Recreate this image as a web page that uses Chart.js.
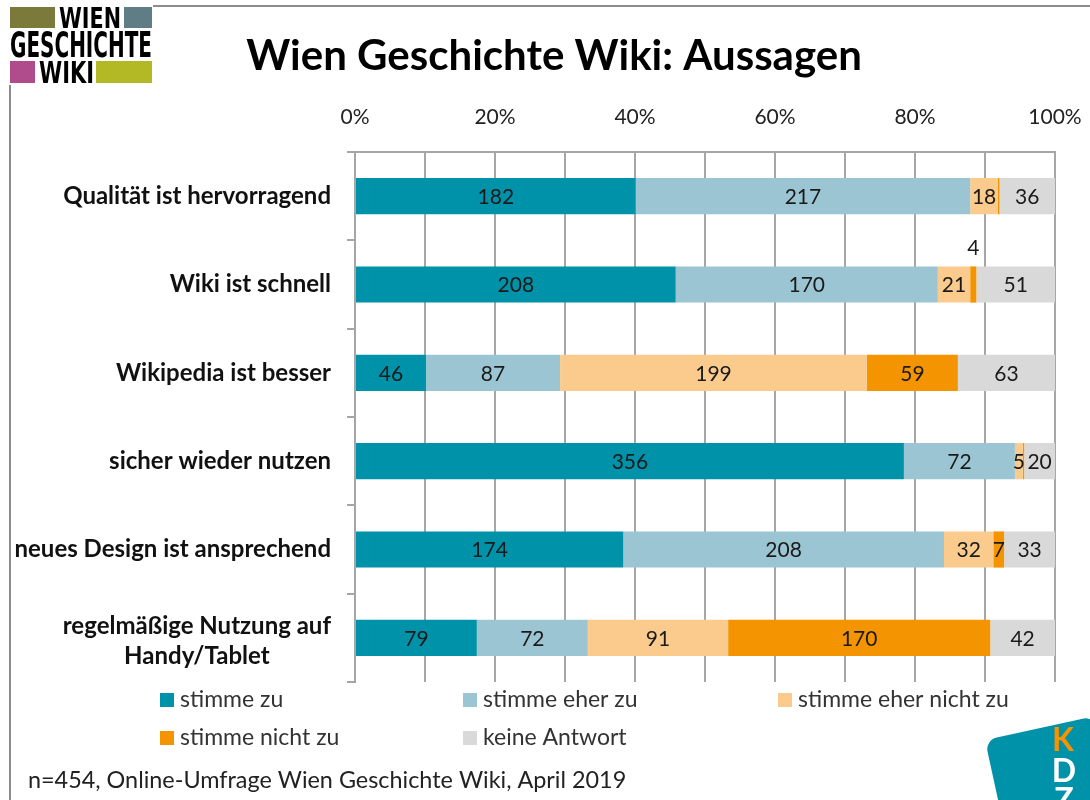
<!DOCTYPE html>
<html>
<head>
<meta charset="utf-8">
<script src="https://cdn.jsdelivr.net/npm/chart.js@4"></script>
<style>
  body { margin: 0; background: #fff; }
  canvas { display: block; }
</style>
</head>
<body>
<canvas id="myChart" width="1090" height="800"></canvas>
<script>
const categories = [
  'Qualität ist hervorragend',
  'Wiki ist schnell',
  'Wikipedia ist besser',
  'sicher wieder nutzen',
  'neues Design ist ansprechend',
  ['regelmäßige Nutzung auf', 'Handy/Tablet'],
];
const seriesNames = ['stimme zu', 'stimme eher zu', 'stimme eher nicht zu', 'stimme nicht zu', 'keine Antwort'];
const seriesColors = ['#0092A8', '#9CC5D3', '#FBCB8D', '#F39400', '#D9D9D9'];
const stimmeZu = [182, 208, 46, 356, 174, 79];
const stimmeEherZu = [217, 170, 87, 72, 208, 72];
const stimmeEherNichtZu = [18, 21, 199, 5, 32, 91];
const stimmeNichtZu = [1, 4, 59, 1, 7, 170];
const keineAntwort = [36, 51, 63, 20, 33, 42];
const xTickLabels = ['0%', '20%', '40%', '60%', '80%', '100%'];

const FONT = 'Lato, "Open Sans", sans-serif';
Chart.defaults.font.family = FONT;

const allSeries = [stimmeZu, stimmeEherZu, stimmeEherNichtZu, stimmeNichtZu, keineAntwort];
const totals = categories.map((_, i) => allSeries.reduce((s, arr) => s + arr[i], 0));

const datasets = allSeries.map((counts, k) => ({
  label: seriesNames[k],
  counts: counts,
  data: counts.map((c, i) => c / totals[i] * 100),
  backgroundColor: seriesColors[k],
  borderWidth: 0,
}));

// frame + logos + title + footnote
const decorations = {
  id: 'decorations',
  beforeDraw: (chart) => {
    const ctx = chart.ctx;
    ctx.save();
    ctx.fillStyle = '#fff';
    ctx.fillRect(0, 0, chart.width, chart.height);
    ctx.strokeStyle = '#8C8C8C';
    ctx.lineWidth = 2;
    ctx.beginPath();
    ctx.moveTo(10, 800);
    ctx.lineTo(10, 6);
    ctx.lineTo(1090, 6);
    ctx.stroke();

    // Wien Geschichte Wiki logo
    ctx.fillStyle = '#fff';
    ctx.fillRect(9, 5, 144, 80);
    ctx.fillStyle = '#7B7A3A'; ctx.fillRect(10, 7, 45, 21);
    ctx.fillStyle = '#5F7D84'; ctx.fillRect(124, 7, 28, 21);
    ctx.fillStyle = '#B04C8C'; ctx.fillRect(10, 61, 25, 22);
    ctx.fillStyle = '#B3B825'; ctx.fillRect(96, 61, 56, 22);
    ctx.fillStyle = '#000';
    ctx.textAlign = 'left';
    ctx.textBaseline = 'alphabetic';
    ctx.font = 'bold 29px "DejaVu Sans Condensed", "Liberation Sans Narrow", sans-serif';
    ctx.fillText('WIEN', 59, 28, 62);
    ctx.font = 'bold 36px "DejaVu Sans Condensed", "Liberation Sans Narrow", sans-serif';
    ctx.fillText('GESCHICHTE', 10, 57, 142);
    ctx.font = 'bold 30px "DejaVu Sans Condensed", "Liberation Sans Narrow", sans-serif';
    ctx.fillText('WIKI', 39, 83, 55);

    // title
    ctx.font = 'bold 42px ' + FONT;
    ctx.textAlign = 'center';
    ctx.textBaseline = 'middle';
    ctx.fillStyle = '#000';
    ctx.fillText('Wien Geschichte Wiki: Aussagen', 554, 56, 620);

    // footnote
    ctx.font = '23.4px ' + FONT;
    ctx.textAlign = 'left';
    ctx.fillStyle = '#222';
    ctx.fillText('n=454, Online-Umfrage Wien Geschichte Wiki, April 2019', 28, 780);

    // KDZ logo
    ctx.save();
    ctx.translate(985, 740);
    ctx.rotate(-0.215);
    ctx.fillStyle = '#0092A8';
    ctx.beginPath();
    ctx.roundRect(0, 0, 112, 112, 12);
    ctx.fill();
    ctx.restore();
    ctx.font = 'bold 32px ' + FONT;
    ctx.textAlign = 'center';
    ctx.fillStyle = '#F39400';
    ctx.fillText('K', 1063, 741);
    ctx.fillStyle = '#fff';
    ctx.fillText('D', 1064, 772);
    ctx.fillText('Z', 1064, 801);
    ctx.restore();
  },
};

// category labels, right aligned block, lines centred inside it
const categoryLabels = {
  id: 'categoryLabels',
  afterDraw: (chart) => {
    const ctx = chart.ctx;
    const yScale = chart.scales.y;
    ctx.save();
    ctx.font = 'bold 24px ' + FONT;
    ctx.fillStyle = '#111';
    ctx.textAlign = 'center';
    ctx.textBaseline = 'middle';
    categories.forEach((label, i) => {
      const lines = Array.isArray(label) ? label : [label];
      const w = Math.max(...lines.map((l) => ctx.measureText(l).width));
      const cx = 331 - w / 2;
      const yc = yScale.getPixelForValue(i) + (lines.length > 1 ? 3 : 0);
      const lh = 30;
      lines.forEach((l, j) => {
        ctx.fillText(l, cx, yc + (j - (lines.length - 1) / 2) * lh);
      });
    });
    ctx.restore();
  },
};

// value labels in the bars
const valueLabels = {
  id: 'valueLabels',
  afterDatasetsDraw: (chart) => {
    const ctx = chart.ctx;
    ctx.save();
    ctx.font = '21px ' + FONT;
    ctx.fillStyle = '#1a1a1a';
    ctx.textAlign = 'center';
    ctx.textBaseline = 'middle';
    chart.data.datasets.forEach((ds, k) => {
      chart.getDatasetMeta(k).data.forEach((bar, i) => {
        const c = ds.counts[i];
        if (c <= 1) return;
        const cx = (bar.x + bar.base) / 2;
        const cy = c < 5 ? bar.y - bar.height / 2 - 18 : bar.y + 1;
        ctx.fillText(String(c), cx, cy);
      });
    });
    ctx.restore();
  },
};

// legend in three columns
const gridLegend = {
  id: 'gridLegend',
  afterDraw: (chart) => {
    const ctx = chart.ctx;
    const cols = [160, 463, 778];
    ctx.save();
    ctx.font = '23px ' + FONT;
    ctx.textAlign = 'left';
    ctx.textBaseline = 'middle';
    chart.data.datasets.forEach((ds, k) => {
      const x = cols[k % 3];
      const y = 700 + Math.floor(k / 3) * 38;
      ctx.fillStyle = ds.backgroundColor;
      ctx.fillRect(x, y - 7, 14, 14);
      ctx.fillStyle = '#333';
      ctx.fillText(ds.label, x + 20, y);
    });
    ctx.restore();
  },
};

new Chart(document.getElementById('myChart'), {
  type: 'bar',
  data: { labels: categories, datasets: datasets },
  options: {
    responsive: false,
    animation: false,
    indexAxis: 'y',
    layout: { autoPadding: false, padding: { top: 0, left: 0, right: 35, bottom: 118 } },
    datasets: { bar: { categoryPercentage: 1, barPercentage: 0.41 } },
    plugins: { legend: { display: false }, tooltip: { enabled: false } },
    scales: {
      x: {
        position: 'top',
        stacked: true,
        min: 0,
        max: 100,
        ticks: {
          stepSize: 10,
          autoSkip: false,
          maxRotation: 0,
          padding: 22,
          color: '#222',
          font: { size: 21 },
          callback: (v) => (v % 20 === 0 ? xTickLabels[v / 20] : ''),
        },
        grid: { color: '#A6A6A6', lineWidth: 2, drawTicks: false },
        border: { color: '#A6A6A6', width: 2 },
        afterFit: (s) => { s.height = 152; s.paddingLeft = 0; s.paddingRight = 0; },
      },
      y: {
        stacked: true,
        ticks: { display: false },
        grid: { drawOnChartArea: false, drawTicks: true, tickLength: 8, color: '#A6A6A6', lineWidth: 2, offset: true },
        border: { color: '#A6A6A6', width: 2 },
        afterFit: (s) => { s.width = 355; s.paddingTop = 0; s.paddingBottom = 0; },
      },
    },
  },
  plugins: [decorations, categoryLabels, valueLabels, gridLegend],
});
</script>
</body>
</html>
